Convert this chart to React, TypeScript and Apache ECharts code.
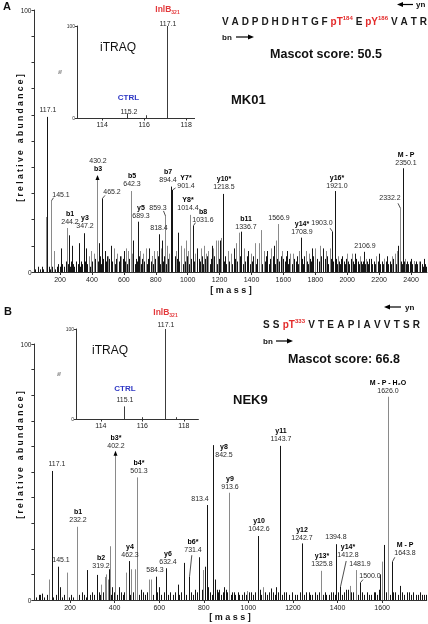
import React, { useEffect, useRef } from 'react';
import * as echarts from 'echarts';

const FONT = 'Liberation Sans, Arial, Helvetica, sans-serif';

// ================= Panel A : MK01 =================
const aLabelMz = [117.1, 145.1, 244.2, 347.2, 430.2, 465.2, 642.3, 689.3, 818.4, 859.3, 894.4, 901.4, 1014.4, 1031.6, 1218.5, 1336.7, 1566.9, 1708.9, 1903.0, 1921.0, 2106.9, 2332.2, 2350.1];
const aLabelInt = [59.2, 27.2, 16.8, 14.8, 36.3, 28.1, 30.9, 19.2, 14.4, 21.4, 32.6, 31.3, 21.8, 17.7, 29.8, 15.4, 18.3, 13.1, 15.4, 30.9, 7.7, 24.3, 39.6];
const aLabelIon = ['', '', 'b1', 'y3', 'b3', '', 'b5', 'y5', '', '', 'b7', 'Y7*', 'Y8*', 'b8', 'y10*', 'b11', '', 'y14*', '', 'y16*', '', '', 'M - P'];

const aMinorBlack = [[208, 9], [255, 14], [275, 10], [320, 11], [365, 9], [445, 11], [480, 8], [520, 10], [600, 8], [660, 12], [760, 9], [840, 12], [940, 15], [1060, 9], [1150, 10], [1205, 12], [1290, 9], [1380, 8], [1500, 8], [1540, 10], [1620, 8], [1780, 9], [1850, 9], [1970, 6], [2050, 7], [2150, 5], [2200, 7], [2250, 6], [2320, 10], [2400, 5], [2480, 5]];
const aMinorGray = [[110, 21], [160, 8], [380, 6], [395, 8], [410, 7], [500, 6], [540, 9], [560, 7], [580, 6], [615, 9], [625, 8], [650, 7], [700, 8], [720, 7], [740, 9], [775, 6], [790, 8], [805, 8], [830, 9], [870, 10], [880, 7], [925, 8], [960, 10], [975, 9], [990, 12], [1000, 8], [1045, 7], [1085, 9], [1100, 10], [1115, 7], [1130, 8], [1160, 9], [1175, 12], [1190, 12], [1212, 13], [1250, 8], [1270, 7], [1305, 11], [1320, 15], [1350, 9], [1400, 7], [1420, 11], [1450, 11], [1460, 16], [1480, 8], [1520, 9], [1555, 12], [1590, 8], [1640, 7], [1660, 7], [1700, 8], [1740, 8], [1760, 7], [1800, 9], [1830, 10], [1870, 8], [1890, 9], [1940, 6], [2000, 7], [2030, 7], [2080, 6], [2120, 5], [2180, 6], [2230, 5], [2280, 6], [2300, 7], [2310, 8], [2360, 5], [2420, 4], [2450, 4]];
const aGrass = [[45, 1], [60, 2], [72, 1], [85, 2], [96, 1], [128, 2], [136, 1], [152, 2], [170, 1], [178, 2], [190, 3], [198, 2], [215, 3], [222, 2], [236, 4], [250, 3], [262, 2], [270, 4], [283, 3], [290, 2], [301, 4], [312, 3], [326, 2], [333, 4], [340, 3], [356, 4], [372, 3], [380, 5], [388, 2], [402, 4], [412, 3], [420, 5], [438, 4], [452, 6], [458, 3], [472, 5], [486, 4], [494, 6], [502, 3], [510, 5], [528, 4], [536, 6], [545, 3], [552, 5], [568, 4], [576, 6], [585, 3], [592, 5], [606, 4], [614, 7], [620, 3], [632, 5], [648, 4], [654, 6], [668, 3], [676, 5], [684, 4], [698, 6], [706, 3], [714, 5], [728, 4], [736, 6], [745, 3], [752, 5], [768, 4], [776, 6], [784, 3], [796, 5], [806, 4], [812, 6], [826, 3], [834, 5], [846, 4], [852, 6], [864, 3], [878, 5], [886, 4], [918, 6], [926, 3], [934, 5], [948, 4], [956, 6], [968, 3], [976, 5], [984, 4], [998, 6], [1006, 3], [1022, 5], [1040, 4], [1048, 6], [1056, 3], [1068, 5], [1076, 4], [1088, 6], [1094, 3], [1108, 5], [1116, 4], [1124, 6], [1138, 3], [1146, 5], [1158, 4], [1166, 6], [1182, 3], [1198, 5], [1226, 4], [1234, 6], [1242, 3], [1250, 5], [1262, 4], [1270, 6], [1278, 3], [1298, 5], [1312, 4], [1328, 6], [1346, 3], [1354, 5], [1362, 4], [1372, 6], [1388, 3], [1396, 5], [1404, 4], [1412, 6], [1428, 3], [1436, 5], [1444, 4], [1468, 3], [1476, 5], [1486, 4], [1494, 6], [1508, 3], [1516, 5], [1524, 4], [1532, 6], [1548, 3], [1562, 5], [1574, 4], [1582, 6], [1590, 3], [1598, 5], [1608, 4], [1616, 6], [1628, 3], [1636, 5], [1644, 4], [1652, 3], [1668, 5], [1676, 4], [1684, 6], [1692, 3], [1700, 4], [1716, 5], [1724, 3], [1732, 6], [1748, 4], [1756, 3], [1764, 5], [1772, 4], [1788, 6], [1796, 3], [1812, 5], [1822, 4], [1838, 6], [1846, 3], [1858, 5], [1866, 4], [1874, 6], [1882, 3], [1896, 5], [1912, 4], [1930, 5], [1938, 3], [1946, 4], [1956, 3], [1964, 5], [1978, 4], [1986, 3], [1994, 5], [2006, 4], [2014, 3], [2022, 5], [2038, 4], [2044, 3], [2058, 5], [2066, 4], [2074, 3], [2084, 4], [2092, 3], [2100, 4], [2114, 3], [2122, 4], [2130, 3], [2138, 5], [2146, 4], [2158, 3], [2166, 4], [2174, 3], [2182, 5], [2190, 4], [2208, 3], [2216, 4], [2224, 3], [2232, 5], [2240, 4], [2258, 3], [2266, 4], [2274, 3], [2290, 5], [2298, 4], [2304, 3], [2314, 5], [2338, 4], [2344, 3], [2358, 4], [2366, 3], [2374, 4], [2382, 3], [2392, 4], [2408, 3], [2416, 4], [2424, 3], [2432, 4], [2440, 3], [2458, 4], [2466, 3], [2474, 2], [2488, 3], [2495, 2]];
const aInsetMz = [115.2, 116.1, 117.1];
const aInsetInt = [5, 3, 100];
const aInsetTagMz = [115.2, 117.1];
const aInsetTag = ['CTRL', 'InlB:321'];
const aSeqTokens = ['V', 'A', 'D', 'P', 'D', 'H', 'D', 'H', 'T', 'G', 'F', 'pT:184', 'E', 'pY:186', 'V', 'A', 'T', 'R'];
const aProtein = 'MK01';
const aScore = 'Mascot score: 50.5';

// ================= Panel B : NEK9 =================
const bLabelMz = [117.1, 145.1, 232.2, 319.2, 402.2, 462.3, 501.3, 584.3, 632.4, 731.4, 813.4, 842.5, 913.6, 1042.6, 1143.7, 1242.7, 1325.8, 1394.8, 1412.8, 1481.9, 1500.0, 1626.0, 1643.8];
const bLabelInt = [50.4, 13, 28.6, 9.8, 57.5, 15.2, 47.9, 9.1, 12.4, 9.1, 37.1, 60.5, 41.9, 25, 60.2, 22.1, 11.4, 21.8, 5.2, 11.7, 6.8, 79.4, 15];
const bLabelIon = ['', '', 'b1', 'b2', 'b3*', 'y4', 'b4*', '', 'y6', 'b6*', '', 'y8', 'y9', 'y10', 'y11', 'y12', 'y13*', '', 'y14*', '', '', 'M - P - H₂O', 'M - P'];
const bMinorBlack = [[60, 2], [75, 2.5], [157, 5], [277, 11.7], [375, 12], [390, 5], [420, 5], [520, 4], [600, 5], [682, 6], [711, 14.5], [780, 16.7], [804, 13], [820, 5], [850, 8], [870, 4], [890, 5], [925, 3], [960, 2], [1010, 3], [1050, 4], [1100, 4.5], [1110, 3], [1125, 5], [1160, 3], [1210, 2], [1260, 3], [1285, 2], [1350, 2], [1380, 3], [1440, 4], [1470, 3], [1540, 2], [1570, 3], [1585, 4], [1590, 10], [1608, 21.5], [1660, 3], [1680, 5.5], [1720, 3], [1760, 2], [1790, 2]];
const bMinorGray = [[107, 8], [185, 10.7], [340, 6], [355, 9], [362, 10], [368, 8], [379, 21], [450, 10.7], [475, 12], [490, 12], [555, 8], [565, 8], [797, 11.7], [995, 3.5], [1065, 5], [1455, 5.5], [1598, 15]];
const bGrass = [[48, 1], [66, 2], [82, 1], [95, 2], [125, 1], [138, 2], [165, 1], [172, 2], [195, 1], [205, 2], [214, 1], [240, 2], [252, 3], [262, 2], [270, 1], [290, 2], [300, 3], [308, 2], [328, 3], [335, 2], [348, 3], [385, 2], [396, 3], [410, 2], [428, 3], [436, 2], [442, 3], [470, 2], [482, 3], [510, 2], [528, 3], [536, 2], [545, 3], [572, 2], [592, 3], [610, 2], [620, 3], [640, 2], [650, 3], [660, 2], [670, 3], [690, 2], [698, 3], [720, 2], [742, 3], [750, 2], [760, 4], [768, 3], [790, 4], [828, 3], [835, 2], [858, 4], [864, 3], [878, 2], [884, 3], [898, 4], [905, 3], [920, 2], [935, 3], [942, 2], [952, 3], [970, 2], [980, 3], [988, 2], [1002, 3], [1020, 2], [1030, 3], [1058, 2], [1075, 3], [1085, 2], [1092, 3], [1118, 2], [1135, 3], [1150, 2], [1170, 3], [1180, 2], [1195, 3], [1220, 2], [1232, 3], [1250, 2], [1270, 3], [1278, 2], [1298, 3], [1310, 2], [1318, 3], [1335, 2], [1342, 3], [1360, 2], [1370, 3], [1388, 2], [1402, 3], [1420, 2], [1430, 3], [1448, 4], [1462, 3], [1490, 2], [1508, 3], [1520, 2], [1530, 3], [1550, 2], [1562, 3], [1578, 2], [1618, 3], [1635, 2], [1650, 3], [1670, 2], [1690, 3], [1700, 2], [1710, 3], [1730, 2], [1740, 3], [1750, 2], [1770, 3], [1780, 2], [1795, 2]];
const bInsetMz = [115.1, 116.0, 117.1, 117.6];
const bInsetInt = [14, 2, 100, 2];
const bInsetTagMz = [115.1, 117.1];
const bInsetTag = ['CTRL', 'InlB:321'];
const bSeqTokens = ['S', 'S', 'pT:333', 'V', 'T', 'E', 'A', 'P', 'I', 'A', 'V', 'V', 'T', 'S', 'R'];
const bProtein = 'NEK9';
const bScore = 'Mascot score: 66.8';

// ticks
const aMassTicks = [200, 400, 600, 800, 1000, 1200, 1400, 1600, 1800, 2000, 2200, 2400];
const bMassTicks = [200, 400, 600, 800, 1000, 1200, 1400, 1600];
const insetTicks = [114, 116, 118];

// ================= styles / layout =================
const A_TONES = 'bggbgbgbbgbbgbbbgbbbbgb';
const B_TONES = 'bbgbgbgbbbbbgbbbgbbgbgb';
const TONE = ['#151515', '#8a8a8a', '#3c3c3c'];

type Lay = { lx: number; ly: number; lead?: [number, number]; arrow?: boolean; massFirst?: boolean };
const A_LAYOUT: Record<string, Lay> = {
  '117.1': { lx: 0, ly: -4 },
  '145.1': { lx: 9.5, ly: -3, lead: [2, -3] },
  '244.2': { lx: 2, ly: -3 },
  '347.2': { lx: 0, ly: -4 },
  '430.2': { lx: 0, ly: -5, arrow: true, massFirst: true },
  '465.2': { lx: 9, ly: -3, lead: [2.5, -3] },
  '642.3': { lx: 0, ly: -4 },
  '689.3': { lx: 2, ly: -2.5 },
  '818.4': { lx: -1, ly: -3 },
  '859.3': { lx: -8, ly: -5, lead: [-2, -5] },
  '894.4': { lx: -4, ly: -4 },
  '901.4': { lx: 13, ly: -1, lead: [3, -2] },
  '1014.4': { lx: -2.5, ly: -4 },
  '1031.6': { lx: 9.5, ly: -2.5, lead: [2, -3] },
  '1218.5': { lx: 0, ly: -3.5 },
  '1336.7': { lx: 4, ly: -2 },
  '1566.9': { lx: 0, ly: -3 },
  '1708.9': { lx: 0, ly: -3 },
  '1903.0': { lx: -10.5, ly: -5.5, lead: [-2.5, -3.5] },
  '1921.0': { lx: 1, ly: -2.5 },
  '2106.9': { lx: 0, ly: -2.5 },
  '2332.2': { lx: -11, ly: -7, lead: [-2.5, -5] },
  '2350.1': { lx: 2.5, ly: -2.5 },
};
const B_LAYOUT: Record<string, Lay> = {
  '117.1': { lx: 4, ly: -3.5 },
  '145.1': { lx: 2.5, ly: -3.5 },
  '232.2': { lx: 0, ly: -3.5 },
  '319.2': { lx: 3, ly: -6 },
  '402.2': { lx: 0, ly: -4, arrow: true },
  '462.3': { lx: 0, ly: -3.5 },
  '501.3': { lx: 1, ly: -3.3 },
  '584.3': { lx: -2, ly: -3.4 },
  '632.4': { lx: 1, ly: -3.3 },
  '731.4': { lx: 3.3, ly: -24, lead: [2.3, -21.5] },
  '813.4': { lx: -7.5, ly: -2.7 },
  '842.5': { lx: 10, ly: 12.5 },
  '913.6': { lx: 0.5, ly: -2.7 },
  '1042.6': { lx: 0, ly: -4.3 },
  '1143.7': { lx: 0, ly: -3.7 },
  '1242.7': { lx: -1, ly: -2.6 },
  '1325.8': { lx: 0, ly: -4.3 },
  '1394.8': { lx: -1, ly: -3.7 },
  '1412.8': { lx: 7.3, ly: -28.5, lead: [5.7, -25.7] },
  '1481.9': { lx: 3, ly: -3 },
  '1500.0': { lx: 9, ly: -4, lead: [2.5, -3] },
  '1626.0': { lx: -1, ly: -3 },
  '1643.8': { lx: 12, ly: -6, lead: [2.3, -4.3] },
};
const A_INSET_LAYOUT: Record<string, { lx: number; ly: number; gap: number }> = {
  '115.2': { lx: 1, ly: 1.5, gap: 12.5 },
  '117.1': { lx: 0, ly: 0.5, gap: 12.5 },
};
const B_INSET_LAYOUT: Record<string, { lx: number; ly: number; gap: number }> = {
  '115.1': { lx: 0.5, ly: -3, gap: 10 },
  '117.1': { lx: 0, ly: -1.5, gap: 10.5 },
};

function peakData(labelMz: number[], labelInt: number[], tones: string, black: number[][], gray: number[][], grass: number[][]) {
  const d: number[][] = [];
  grass.forEach((p) => d.push([p[0], p[1], 0]));
  gray.forEach((p) => d.push([p[0], p[1], 1]));
  black.forEach((p) => d.push([p[0], p[1], 0]));
  labelMz.forEach((m, i) => d.push([m, labelInt[i], tones[i] === 'g' ? 1 : 0]));
  return d;
}

function peakSeries(grid: number, data: number[][]) {
  return {
    type: 'custom',
    xAxisIndex: grid,
    yAxisIndex: grid,
    clip: false,
    silent: true,
    itemStyle: { color: '#222' },
    data,
    encode: { x: 0, y: 1 },
    renderItem: (_p: any, api: any) => {
      const x = api.value(0);
      const y = api.value(1);
      const t = api.value(2);
      const p0 = api.coord([x, 0]);
      const p1 = api.coord([x, y]);
      const px = Math.round(p0[0]) + 0.5;
      return {
        type: 'line',
        shape: { x1: px, y1: p0[1], x2: px, y2: p1[1] },
        style: { stroke: TONE[t], lineWidth: 1 },
      };
    },
  };
}

function txt(x: number, y: number, text: string, bold: boolean, size = 7) {
  return {
    type: 'text',
    x: Math.round(x),
    y: Math.round(y),
    style: {
      text,
      fill: bold ? '#000' : '#2a2a2a',
      fontSize: size,
      fontWeight: bold ? 'bold' : 'normal',
      fontFamily: FONT,
      align: 'center',
      verticalAlign: 'bottom',
    },
  };
}

function labelSeries(grid: number, mzs: number[], ints: number[], ions: string[], layout: Record<string, Lay>) {
  return {
    type: 'custom',
    xAxisIndex: grid,
    yAxisIndex: grid,
    clip: false,
    silent: true,
    z: 5,
    itemStyle: { color: '#222' },
    data: mzs.map((m, i) => [m, ints[i], i]),
    encode: { x: 0, y: 1 },
    renderItem: (_p: any, api: any) => {
      const i = api.value(2);
      const key = mzs[i].toFixed(1);
      const L = layout[key] || { lx: 0, ly: -3 };
      const p = api.coord([mzs[i], ints[i]]);
      const px = Math.round(p[0]) + 0.5;
      const py = p[1];
      const cx = px + L.lx;
      const by = py + L.ly;
      const ion = ions[i];
      const children: any[] = [];
      if (L.massFirst) {
        children.push(txt(cx, by, ion, true));
        children.push(txt(cx, by - 8, key, false));
      } else {
        children.push(txt(cx, by, key, false));
        if (ion) children.push(txt(cx, by - 8, ion, true));
      }
      if (L.lead) {
        children.push({
          type: 'line',
          shape: { x1: px, y1: py, x2: px + L.lead[0], y2: py + L.lead[1] },
          style: { stroke: '#222', lineWidth: 0.8 },
        });
      }
      if (L.arrow) {
        children.push({
          type: 'polygon',
          shape: { points: [[px - 2, py + 3], [px + 2, py + 3], [px, py - 2]] },
          style: { fill: '#000' },
        });
      }
      return { type: 'group', children };
    },
  };
}

function insetLabelSeries(grid: number, mzs: number[], ints: number[], tags: string[], layout: Record<string, { lx: number; ly: number; gap: number }>) {
  return {
    type: 'custom',
    xAxisIndex: grid,
    yAxisIndex: grid,
    clip: false,
    silent: true,
    z: 5,
    itemStyle: { color: '#222' },
    data: mzs.map((m, i) => [m, ints[i], i]),
    encode: { x: 0, y: 1 },
    renderItem: (_p: any, api: any) => {
      const i = api.value(2);
      const key = mzs[i].toFixed(1);
      const L = layout[key];
      const p = api.coord([mzs[i], ints[i]]);
      const cx = Math.round(p[0]) + 0.5 + L.lx;
      const by = p[1] + L.ly;
      const tag = tags[i];
      let rich = '';
      if (tag.includes(':')) {
        const [a, s] = tag.split(':');
        rich = `{r|${a}}{rs|${s}}`;
      } else rich = `{c|${tag}}`;
      return {
        type: 'group',
        children: [
          txt(cx, by, key, false),
          {
            type: 'text',
            x: cx,
            y: by - L.gap,
            style: {
              text: rich,
              fill: '#000',
              align: 'center',
              verticalAlign: 'bottom',
              fontFamily: FONT,
              rich: {
                c: { fontSize: 8, fontWeight: 'bold', fill: '#2d36c4', fontFamily: FONT, lineHeight: 10 },
                r: { fontSize: 8.5, fontWeight: 'bold', fill: '#e3393c', fontFamily: FONT, lineHeight: 11 },
                rs: { fontSize: 5, fontWeight: 'bold', fill: '#e3393c', fontFamily: FONT, lineHeight: 5, verticalAlign: 'bottom' },
              },
            },
          },
        ],
      };
    },
  };
}

function seqRich(tokens: string[]) {
  return tokens
    .map((t) => {
      if (t.includes(':')) {
        const [r, n] = t.split(':');
        return `{p|${r}}{s|${n}}`;
      }
      return `{n|${t}}`;
    })
    .join('{w|\u00a0}');
}

function seqStyles(gap: number) {
  return {
    n: { fontSize: 10, fontWeight: 'bold', fill: '#1a1a1a', fontFamily: FONT, lineHeight: 12 },
    w: { fontSize: 10, fontFamily: FONT, lineHeight: 12, width: gap },
    p: { fontSize: 10, fontWeight: 'bold', fill: '#e32b2b', fontFamily: FONT, lineHeight: 12 },
    s: { fontSize: 6, fontWeight: 'bold', fill: '#e32b2b', fontFamily: FONT, lineHeight: 6, verticalAlign: 'top' },
  };
}

function gtext(x: number, y: number, text: string, o: any = {}) {
  return {
    type: 'text',
    x,
    y,
    rotation: o.rotation || 0,
    silent: true,
    style: {
      text,
      fill: o.fill || '#111',
      fontSize: o.size || 8,
      fontWeight: o.bold ? 'bold' : 'normal',
      fontFamily: FONT,
      align: o.align || 'left',
      verticalAlign: 'middle',
      rich: o.rich,
    },
  };
}

function arrow(x1: number, x2: number, y: number, left: boolean) {
  const tip = left ? x1 : x2;
  const base = left ? x1 + 6 : x2 - 6;
  return [
    { type: 'line', silent: true, shape: { x1: left ? base : x1, y1: y, x2: left ? x2 : base, y2: y }, style: { stroke: '#000', lineWidth: 1.2 } },
    { type: 'polygon', silent: true, shape: { points: [[tip, y], [base, y - 2.5], [base, y + 2.5]] }, style: { fill: '#000' } },
  ];
}

function mainX(grid: number, min: number, max: number, ticks: number[]) {
  return {
    type: 'value',
    gridIndex: grid,
    min,
    max,
    axisLine: { show: true, onZero: false, lineStyle: { color: '#333', width: 1 } },
    axisTick: { show: true, customValues: ticks, length: 3, lineStyle: { color: '#333' } },
    axisLabel: { show: true, customValues: ticks, fontSize: 7, color: '#222', fontFamily: FONT, margin: 4, formatter: (v: number) => String(v) },
    splitLine: { show: false },
  };
}

function mainY(grid: number) {
  return {
    type: 'value',
    gridIndex: grid,
    min: 0,
    max: 100,
    interval: 10,
    axisLine: { show: true, lineStyle: { color: '#333', width: 1 } },
    axisTick: { show: true, length: 3, lineStyle: { color: '#333' } },
    axisLabel: {
      show: true,
      fontSize: 6.5,
      color: '#222',
      fontFamily: FONT,
      margin: 3,
      formatter: (v: number) => (v === 0 || v === 100 ? String(v) : ''),
    },
    splitLine: { show: false },
  };
}

function insetX(grid: number, min: number, max: number) {
  return {
    type: 'value',
    gridIndex: grid,
    min,
    max,
    axisLine: { show: true, onZero: false, lineStyle: { color: '#333', width: 1 } },
    axisTick: { show: true, customValues: insetTicks, length: 2.5, lineStyle: { color: '#333' } },
    axisLabel: { show: true, customValues: insetTicks, fontSize: 7, color: '#222', fontFamily: FONT, margin: 3, formatter: (v: number) => String(v) },
    splitLine: { show: false },
  };
}

function insetY(grid: number) {
  return {
    type: 'value',
    gridIndex: grid,
    min: 0,
    max: 100,
    interval: 100,
    name: '%',
    nameLocation: 'middle',
    nameGap: 7,
    nameRotate: 90,
    nameTextStyle: { fontSize: 5, color: '#333', fontFamily: FONT },
    axisLine: { show: true, lineStyle: { color: '#333', width: 1 } },
    axisTick: { show: true, length: 2, lineStyle: { color: '#333' } },
    axisLabel: { show: true, fontSize: 5, color: '#333', fontFamily: FONT, margin: 2 },
    splitLine: { show: false },
  };
}

const Y_TITLE = '[\u00a0r\u00a0e\u00a0l\u00a0a\u00a0t\u00a0i\u00a0v\u00a0e\u00a0\u00a0\u00a0a\u00a0b\u00a0u\u00a0n\u00a0d\u00a0a\u00a0n\u00a0c\u00a0e\u00a0]';
const X_TITLE = '[\u00a0m\u00a0a\u00a0s\u00a0s\u00a0]';

function buildOption() {
  const grids = [
    { left: 34.5, top: 10, width: 392.5, height: 262 },
    { left: 77, top: 26, width: 117.6, height: 92 },
    { left: 34.4, top: 344, width: 392.3, height: 256 },
    { left: 76, top: 329, width: 122.4, height: 90 },
  ].map((g) => ({ ...g, containLabel: false, outerBoundsMode: 'none', show: false }));

  const graphic: any[] = [
    gtext(3, 6, 'A', { bold: true, size: 11 }),
    gtext(4, 311, 'B', { bold: true, size: 11 }),
    // panel A header
    gtext(222, 21, seqRich(aSeqTokens), { rich: seqStyles(2.9) }),
    ...arrow(397, 413, 4.5, true),
    gtext(416, 4.5, 'yn', { bold: true, size: 8 }),
    gtext(222, 37, 'bn', { bold: true, size: 8 }),
    ...arrow(236, 254, 37, false),
    gtext(326, 54, aScore, { bold: true, size: 12.5, align: 'center' }),
    gtext(231, 99, aProtein, { bold: true, size: 13 }),
    gtext(118, 47, 'iTRAQ', { size: 12, align: 'center' }),
    gtext(20, 138, Y_TITLE, { bold: true, size: 8.5, align: 'center', rotation: Math.PI / 2 }),
    gtext(231, 290, X_TITLE, { bold: true, size: 9, align: 'center' }),
    // panel B header
    gtext(263, 324, seqRich(bSeqTokens), { rich: seqStyles(3.2) }),
    ...arrow(384, 401, 307, true),
    gtext(405, 307, 'yn', { bold: true, size: 8 }),
    gtext(263, 341, 'bn', { bold: true, size: 8 }),
    ...arrow(276, 293, 341, false),
    gtext(344, 359, bScore, { bold: true, size: 12.5, align: 'center' }),
    gtext(233, 399, bProtein, { bold: true, size: 13 }),
    gtext(110, 350, 'iTRAQ', { size: 12, align: 'center' }),
    gtext(20, 455, Y_TITLE, { bold: true, size: 8.5, align: 'center', rotation: Math.PI / 2 }),
    gtext(230, 617, X_TITLE, { bold: true, size: 9, align: 'center' }),
  ];

  const aInsetData = aInsetMz.map((m, i) => [m, aInsetInt[i], 2]);
  const bInsetData = bInsetMz.map((m, i) => [m, bInsetInt[i], 2]);

  return {
    animation: false,
    backgroundColor: 'transparent',
    textStyle: { fontFamily: FONT },
    grid: grids,
    xAxis: [mainX(0, 40, 2500, aMassTicks), insetX(1, 112.8, 118.4), mainX(2, 40, 1800, bMassTicks), insetX(3, 112.8, 118.7)],
    yAxis: [mainY(0), insetY(1), mainY(2), insetY(3)],
    series: [
      peakSeries(0, peakData(aLabelMz, aLabelInt, A_TONES, aMinorBlack, aMinorGray, aGrass)),
      labelSeries(0, aLabelMz, aLabelInt, aLabelIon, A_LAYOUT),
      peakSeries(1, aInsetData),
      insetLabelSeries(1, aInsetTagMz, aInsetTagMz.map((m) => aInsetInt[aInsetMz.indexOf(m)]), aInsetTag, A_INSET_LAYOUT),
      peakSeries(2, peakData(bLabelMz, bLabelInt, B_TONES, bMinorBlack, bMinorGray, bGrass)),
      labelSeries(2, bLabelMz, bLabelInt, bLabelIon, B_LAYOUT),
      peakSeries(3, bInsetData),
      insetLabelSeries(3, bInsetTagMz, bInsetTagMz.map((m) => bInsetInt[bInsetMz.indexOf(m)]), bInsetTag, B_INSET_LAYOUT),
    ],
    graphic,
  };
}

export default function App() {
  const ref = useRef<HTMLDivElement>(null);
  useEffect(() => {
    const chart = echarts.init(ref.current as HTMLDivElement, null, { renderer: 'svg', width: 428, height: 624 });
    chart.setOption(buildOption() as any);
    return () => chart.dispose();
  }, []);
  return (
    <div
      ref={ref}
      style={{ position: 'fixed', left: 0, top: 0, width: 428, height: 624, willChange: 'transform', transform: 'translateZ(0)' }}
    />
  );
}
